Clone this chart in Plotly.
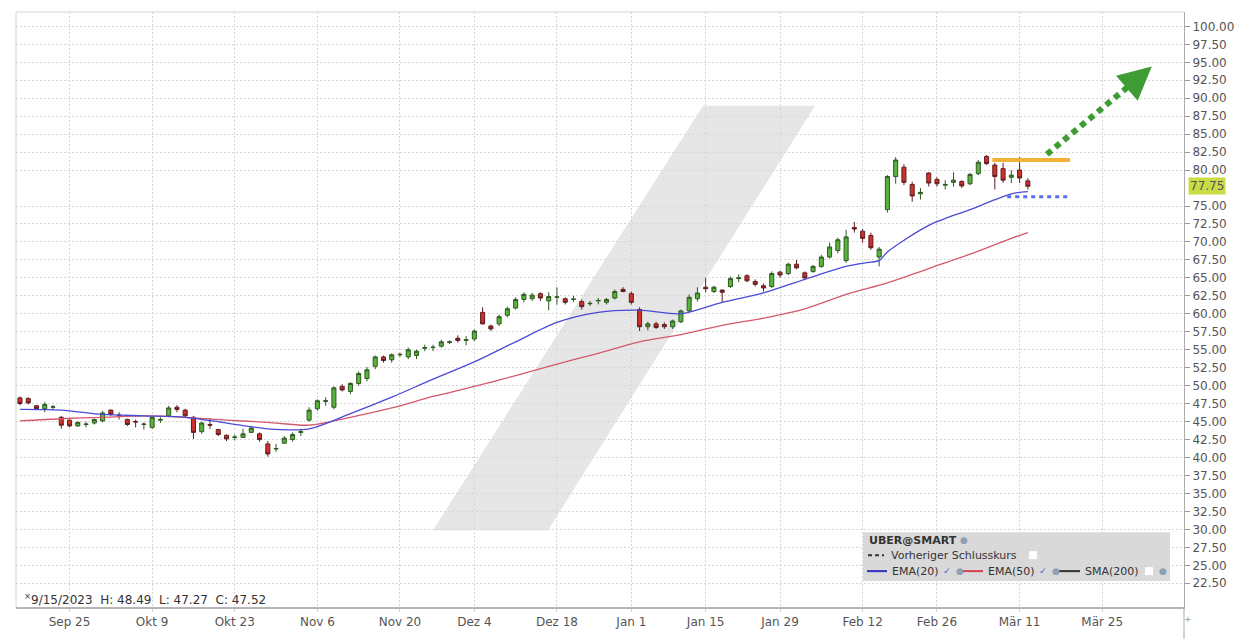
import plotly.graph_objects as go
import pandas as pd

# ---------------- data ----------------
holidays = ["2023-11-23", "2023-12-25", "2024-01-01", "2024-01-15", "2024-02-19", "2024-03-29"]
trading_days = [d for d in pd.bdate_range("2023-09-15", "2024-04-19")
                if d.strftime("%Y-%m-%d") not in holidays]

opens = [48.30, 48.20, 47.20, 46.80, 47.00, 45.60, 45.20, 44.40, 44.60, 44.80,
         45.10, 46.60, 45.90, 45.30, 45.00, 44.60, 44.20, 45.20, 45.80, 47.00,
         46.60, 45.60, 43.60, 44.60, 43.90, 43.10, 42.80, 42.80, 43.50, 43.30,
         41.90, 41.20, 42.00, 42.50, 43.50, 45.20, 46.80, 47.80, 47.00, 49.90,
         49.20, 50.30, 51.00, 52.70, 54.00, 53.60, 54.30, 54.00, 54.20, 55.20,
         55.30, 55.50, 56.00, 56.60, 56.30, 56.50, 60.20, 58.30, 58.60, 59.80,
         60.80, 62.00, 62.10, 62.80, 61.80, 62.30, 62.10, 62.00, 61.70, 61.40,
         61.80, 61.60, 62.20, 63.40, 62.80, 60.60, 58.20, 58.60, 58.50, 58.20,
         58.90, 60.40, 62.10, 63.70, 63.10, 63.30, 63.80, 64.90, 65.30, 64.50,
         63.90, 63.80, 65.80, 65.60, 66.90, 65.70, 65.90, 66.60, 67.90, 68.80,
         67.40, 72.00, 71.50, 70.90, 67.90, 74.50, 79.10, 80.40, 78.00, 76.70,
         79.60, 78.70, 77.90, 78.30, 78.40, 78.10, 79.50, 81.90, 80.70, 80.20,
         79.00, 80.00, 78.50]
highs = [48.49, 48.40, 47.30, 47.70, 47.30, 45.80, 45.30, 45.00, 45.00, 45.40,
         46.50, 46.70, 46.30, 45.40, 45.30, 44.90, 45.80, 45.60, 47.20, 47.30,
         46.80, 45.80, 45.00, 45.50, 44.00, 43.20, 43.20, 44.00, 44.40, 43.50,
         42.30, 41.90, 43.00, 43.50, 44.00, 47.00, 48.10, 48.40, 49.90, 50.20,
         50.50, 52.00, 52.60, 54.20, 54.20, 54.50, 54.60, 55.30, 55.00, 55.70,
         55.70, 56.40, 56.30, 57.00, 56.90, 57.80, 60.90, 58.50, 59.90, 61.00,
         62.30, 63.00, 62.90, 63.00, 63.00, 63.70, 62.30, 62.50, 62.00, 61.80,
         62.20, 62.20, 63.40, 63.70, 63.10, 60.90, 58.90, 58.90, 58.80, 59.20,
         60.60, 62.70, 63.70, 65.00, 63.90, 63.40, 65.20, 65.50, 65.50, 64.80,
         64.20, 65.90, 66.00, 67.10, 67.50, 65.90, 66.80, 68.20, 69.90, 70.60,
         71.70, 72.80, 71.80, 71.30, 69.30, 79.30, 81.80, 80.80, 78.40, 77.50,
         79.70, 79.00, 78.60, 79.70, 78.60, 79.60, 81.40, 82.10, 81.00, 81.00,
         80.00, 81.80, 78.90]
lows = [47.27, 47.40, 46.60, 46.30, 46.60, 44.00, 44.20, 44.30, 44.20, 44.60,
        44.90, 45.80, 45.30, 44.40, 44.20, 43.90, 44.00, 44.80, 45.60, 46.30,
        45.60, 42.60, 43.30, 44.00, 43.00, 42.30, 42.40, 42.70, 43.40, 42.20,
        40.10, 40.80, 41.90, 42.20, 43.00, 45.00, 46.50, 47.20, 46.70, 49.20,
        48.80, 50.00, 50.60, 52.30, 53.20, 53.20, 54.00, 53.70, 53.70, 54.80,
        54.80, 55.30, 55.80, 56.00, 55.60, 56.20, 58.50, 57.60, 58.30, 59.50,
        60.60, 61.60, 61.80, 61.80, 60.50, 61.30, 61.30, 61.60, 60.60, 61.10,
        61.30, 61.30, 62.00, 63.00, 61.30, 57.60, 57.70, 57.90, 57.90, 57.90,
        58.70, 60.20, 61.70, 63.00, 62.90, 61.60, 63.60, 64.40, 64.40, 63.80,
        63.10, 63.60, 65.00, 65.40, 66.20, 64.80, 65.70, 66.40, 67.70, 68.40,
        67.10, 71.30, 69.90, 68.90, 66.60, 74.10, 78.10, 77.90, 75.60, 75.90,
        77.70, 77.70, 77.30, 77.70, 77.50, 77.90, 79.30, 80.70, 77.30, 78.20,
        78.20, 78.20, 77.30]
closes = [47.52, 47.60, 46.80, 47.40, 47.05, 44.50, 44.40, 44.90, 44.65, 45.30,
          46.20, 46.00, 45.85, 44.60, 44.95, 44.65, 45.60, 45.30, 46.90, 46.70,
          45.80, 43.50, 44.80, 44.50, 43.20, 42.60, 42.85, 43.30, 44.10, 42.50,
          40.50, 41.25, 42.70, 43.20, 43.60, 46.60, 47.90, 47.90, 49.70, 49.40,
          50.30, 51.70, 52.20, 54.00, 53.50, 54.30, 54.35, 55.00, 54.80, 55.30,
          55.35, 56.10, 56.10, 56.30, 56.40, 57.60, 58.60, 57.90, 59.60, 60.70,
          62.00, 62.70, 62.60, 62.20, 62.40, 62.35, 61.60, 62.05, 61.00, 61.45,
          61.85, 62.00, 63.10, 63.10, 61.60, 58.20, 58.60, 58.10, 58.20, 59.00,
          60.40, 62.30, 62.90, 63.50, 63.70, 63.00, 64.90, 65.00, 64.60, 64.10,
          63.60, 65.60, 65.40, 66.90, 66.40, 65.00, 66.60, 67.90, 69.30, 70.30,
          70.70, 71.80, 70.50, 69.20, 69.00, 79.10, 81.40, 78.30, 76.40, 76.90,
          78.20, 78.10, 78.00, 78.60, 77.80, 79.40, 81.10, 80.90, 79.10, 78.60,
          79.30, 78.90, 77.75]

ema20_pos = [0, 5, 10, 15, 20, 25, 30, 35, 40, 45, 50, 55, 60, 65, 70, 75,
             80, 85, 90, 95, 100, 103, 104, 105, 110, 115, 120, 122]
ema20_vals = [46.7, 46.6, 46.0, 45.8, 45.6, 44.8, 44.0, 44.0, 46.1, 48.4, 50.9,
              53.3, 56.1, 58.8, 60.2, 60.5, 60.0, 61.6, 62.9, 64.8, 66.6, 67.2,
              67.4, 68.6, 72.3, 74.5, 76.7, 77.0]
ema50_pos = [0, 5, 10, 15, 20, 25, 30, 35, 40, 45, 50, 55, 60, 65, 70, 75,
             80, 85, 90, 95, 100, 105, 110, 115, 120, 122]
ema50_vals = [45.1, 45.4, 45.6, 45.8, 45.6, 45.2, 44.9, 44.5, 45.6, 46.9, 48.5,
              49.9, 51.4, 53.0, 54.5, 56.1, 57.1, 58.4, 59.4, 60.7, 62.7, 64.3,
              66.3, 68.3, 70.5, 71.3]

tick_dates = ["2023-09-25", "2023-10-09", "2023-10-23", "2023-11-06", "2023-11-20",
              "2023-12-04", "2023-12-18", "2024-01-01", "2024-01-15", "2024-01-29",
              "2024-02-12", "2024-02-26", "2024-03-11", "2024-03-25"]
tick_labels = ["Sep 25", "Okt 9", "Okt 23", "Nov 6", "Nov 20", "Dez 4", "Dez 18",
               "Jan 1", "Jan 15", "Jan 29", "Feb 12", "Feb 26", "Mär 11", "Mär 25"]
y_ticks = [22.5, 25.0, 27.5, 30.0, 32.5, 35.0, 37.5, 40.0, 42.5, 45.0, 47.5, 50.0,
           52.5, 55.0, 57.5, 60.0, 62.5, 65.0, 67.5, 70.0, 72.5, 75.0, 80.0,
           82.5, 85.0, 87.5, 90.0, 92.5, 95.0, 97.5, 100.0]
last_price = 77.75

# drawn annotations (trading-day position, price)
resistance = {"x": [117.7, 127.1], "y": [81.4, 81.4]}
support = {"x": [119.5, 126.8], "y": [76.3, 76.3]}
trend_arrow = {"x": [124.3, 136.0], "y": [82.2, 93.4]}
arrow_tip = (137.0, 94.4)

# ---------------- helpers ----------------
def day_index(s):
    ts = pd.Timestamp(s)
    return next(i for i, d in enumerate(trading_days) if d >= ts)

tick_pos = [day_index(s) for s in tick_dates]
xs = list(range(len(closes)))

L, R, T, B = 16, 1184, 12, 609
def px(x):
    return (x - L) / (R - L)
def py(y):
    return (B - y) / (B - T)

FONT = "DejaVu Sans"

fig = go.Figure()

fig.add_trace(go.Scatter(x=ema50_pos, y=ema50_vals, mode="lines",
                         line=dict(color="#d35a6a", width=1.3, shape="spline", smoothing=0.8),
                         hoverinfo="skip"))
fig.add_trace(go.Scatter(x=ema20_pos, y=ema20_vals, mode="lines",
                         line=dict(color="#4a4ad6", width=1.3, shape="spline", smoothing=0.8),
                         hoverinfo="skip"))

fig.add_trace(go.Candlestick(
    x=xs, open=opens, high=highs, low=lows, close=closes,
    increasing=dict(fillcolor="#58b43c", line=dict(color="#2f5a22", width=1)),
    decreasing=dict(fillcolor="#cf302b", line=dict(color="#5e2020", width=1)),
    whiskerwidth=0, showlegend=False))

fig.add_trace(go.Scatter(x=resistance["x"], y=resistance["y"], mode="lines",
                         line=dict(color="#f2b234", width=4), hoverinfo="skip"))
fig.add_trace(go.Scatter(x=support["x"], y=support["y"], mode="lines",
                         line=dict(color="#5a6cf0", width=3, dash="4px,4px"), hoverinfo="skip"))
fig.add_trace(go.Scatter(x=trend_arrow["x"], y=trend_arrow["y"], mode="lines",
                         line=dict(color="#3f9c35", width=6, dash="6px,5px"), hoverinfo="skip"))

annotations = []
annotations.append(dict(x=arrow_tip[0], y=arrow_tip[1], xref="x", yref="y",
                        ax=135.3, ay=92.7, axref="x", ayref="y", text=" ",
                        showarrow=True, arrowhead=2, arrowsize=1.1, arrowwidth=6,
                        arrowcolor="#3f9c35"))

# last price label
annotations.append(dict(x=1, y=last_price, xref="paper", yref="y", xanchor="left",
                        yanchor="middle", xshift=4, text="77.75", showarrow=False,
                        bgcolor="#c9dc45", borderpad=1,
                        font=dict(family=FONT, size=12, color="#555")))

# hover info row
annotations.append(dict(x=px(22), y=py(601), xref="paper", yref="paper",
                        xanchor="left", yanchor="middle", showarrow=False,
                        text="<sup>×</sup>9/15/2023&nbsp; H: 48.49&nbsp; L: 47.27&nbsp; C: 47.52",
                        font=dict(family=FONT, size=12, color="#333")))

# bottom-right plus
annotations.append(dict(x=px(1188), y=py(621), xref="paper", yref="paper",
                        xanchor="center", yanchor="middle", showarrow=False, text="+",
                        font=dict(family=FONT, size=9, color="#999")))

# legend box texts
def leg_text(x, y, text, size=11, color="#333"):
    annotations.append(dict(x=px(x), y=py(y), xref="paper", yref="paper",
                            xanchor="left", yanchor="middle", showarrow=False,
                            text=text, font=dict(family=FONT, size=size, color=color)))

leg_text(867, 542, "<b>UBER@SMART</b>")
leg_text(958, 542, "●", 9, "#8fa0b4")
leg_text(889, 557, "Vorheriger Schlusskurs")
leg_text(890, 573, "EMA(20)")
leg_text(941, 573, "✓", 9, "#4466cc")
leg_text(954, 573, "●", 9, "#8fa0b4")
leg_text(986, 573, "EMA(50)")
leg_text(1037, 573, "✓", 9, "#4466cc")
leg_text(1050, 573, "●", 9, "#8fa0b4")
leg_text(1083, 573, "SMA(200)")
leg_text(1157, 573, "●", 9, "#8fa0b4")

shapes = []
# watermark
wm = [(433, 532), (548, 532), (815, 106), (703, 106)]
path = "M " + " L ".join(f"{px(a)},{py(b)}" for a, b in wm) + " Z"
shapes.append(dict(type="path", xref="paper", yref="paper", path=path,
                   fillcolor="#e6e6e6", line=dict(width=0), layer="below"))
# plot border (top/left)
shapes.append(dict(type="line", xref="paper", yref="paper", x0=0, x1=1, y0=1, y1=1,
                   line=dict(color="#d4d4d4", width=1)))
shapes.append(dict(type="line", xref="paper", yref="paper", x0=0, x1=0, y0=0, y1=1,
                   line=dict(color="#d4d4d4", width=1)))
# right axis extension
shapes.append(dict(type="line", xref="paper", yref="paper", x0=1, x1=1, y0=py(641), y1=0,
                   line=dict(color="#aaaaaa", width=1)))
# legend box
shapes.append(dict(type="rect", xref="paper", yref="paper", x0=px(863), x1=px(1170),
                   y0=py(583), y1=py(534), fillcolor="#d9d9d9", line=dict(width=0)))
shapes.append(dict(type="line", xref="paper", yref="paper", x0=px(868), x1=px(884),
                   y0=py(557), y1=py(557), line=dict(color="#333", width=2, dash="4px,3px")))
shapes.append(dict(type="rect", xref="paper", yref="paper", x0=px(1029), x1=px(1037),
                   y0=py(561), y1=py(553), fillcolor="white", line=dict(width=0)))
shapes.append(dict(type="line", xref="paper", yref="paper", x0=px(867), x1=px(887),
                   y0=py(573), y1=py(573), line=dict(color="#3030c0", width=2)))
shapes.append(dict(type="line", xref="paper", yref="paper", x0=px(962), x1=px(983),
                   y0=py(573), y1=py(573), line=dict(color="#d04050", width=2)))
shapes.append(dict(type="line", xref="paper", yref="paper", x0=px(1059), x1=px(1080),
                   y0=py(573), y1=py(573), line=dict(color="#333", width=2)))
shapes.append(dict(type="rect", xref="paper", yref="paper", x0=px(1145), x1=px(1153),
                   y0=py(577), y1=py(569), fillcolor="white", line=dict(width=0)))

fig.update_layout(
    width=1248, height=641,
    margin=dict(l=L, r=1248 - R, t=T, b=641 - B),
    paper_bgcolor="white", plot_bgcolor="white",
    showlegend=False, boxgap=0.3,
    shapes=shapes, annotations=annotations,
    font=dict(family=FONT, size=12, color="#555"),
    xaxis=dict(range=[-0.48, 140.9], tickmode="array", tickvals=tick_pos,
               ticktext=tick_labels, showgrid=True, gridcolor="#d6d6d6",
               griddash="2px,2px", gridwidth=1, zeroline=False, showline=True,
               linecolor="#b5b5b5", linewidth=2, ticks="outside", ticklen=3,
               tickcolor="#cfcfcf", rangeslider=dict(visible=False),
               tickfont=dict(family=FONT, size=12, color="#555")),
    yaxis=dict(side="right", range=[19.2, 102.0], tickmode="array", tickvals=y_ticks,
               ticktext=[f"{v:.2f}" for v in y_ticks], showgrid=True,
               gridcolor="#d6d6d6", griddash="2px,2px", gridwidth=1, zeroline=False,
               showline=True, linecolor="#aaaaaa", linewidth=1, ticks="outside",
               ticklen=5, tickcolor="#999",
               tickfont=dict(family=FONT, size=12, color="#555")),
)

fig.write_html("out.html")
